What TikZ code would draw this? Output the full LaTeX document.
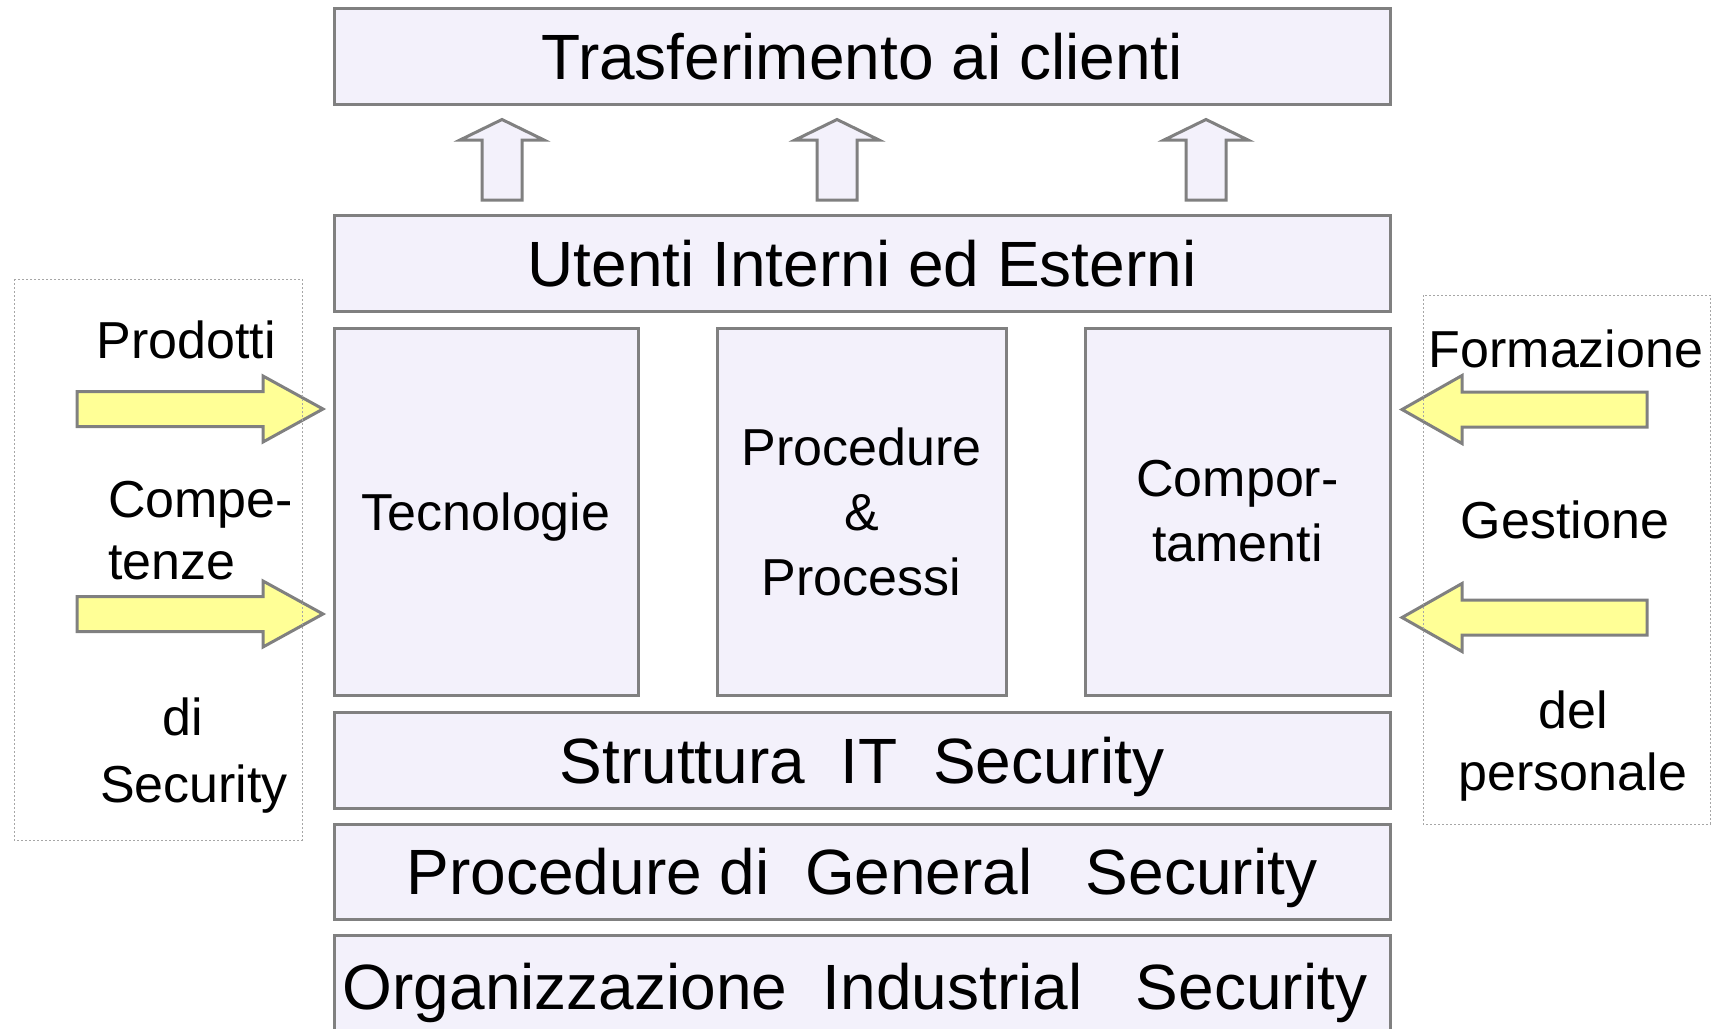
\documentclass[tikz,border=0pt]{standalone}
\usepackage{fontspec}
\setmainfont{Liberation Sans}
\usetikzlibrary{positioning}
\definecolor{lavender}{RGB}{243,241,251}
\definecolor{paleyellow}{RGB}{255,255,150}
\definecolor{edgegray}{RGB}{128,128,128}
\tikzset{
  layer/.style={draw=edgegray, line width=3pt, fill=lavender, minimum width=1056pt, minimum height=96pt, inner sep=0pt, font=\fontsize{64}{64}\selectfont, text height=46pt, text depth=0pt},
  pillar/.style={draw=edgegray, line width=3pt, fill=lavender, minimum height=367pt, inner sep=0pt, align=center, font=\fontsize{52}{65}\selectfont},
  sidetext/.style={inner sep=0pt, font=\fontsize{52}{62}\selectfont},
  fatarrow/.style={draw=edgegray, line width=3pt, fill=paleyellow},
  uparrow/.style={draw=edgegray, line width=3pt, fill=lavender},
  dotbox/.style={draw=gray!70, line width=1pt, dash pattern=on 2pt off 2pt}
}
\begin{document}
\begin{tikzpicture}[x=1pt,y=-1pt]
    \useasboundingbox (0,0) rectangle (1712,1028);
    \clip (0,0) rectangle (1712,1028);
    % layers
    \node[layer] (clienti) at (862,56.5) {Trasferimento ai clienti};
    \node[layer] (utenti) at (862,263) {Utenti Interni ed Esterni};
    \node[pillar, minimum width=304pt, text height=37pt, text depth=0pt] (tecno) at (486,511.5) {Tecnologie};
    \node[pillar, minimum width=289pt] (proc) at (861.5,511.5) {Procedure\\\&\\Processi};
    \node[pillar, minimum width=305pt] (comp) at (1237.5,511.5) {Compor-\\tamenti};
    \node[layer] (struttura) at (862,760) {Struttura\ \ IT\ \ Security};
    \node[layer, minimum height=95pt] (general) at (862,871.5) {Procedure di\ \ General\ \ \ Security};
    \node[layer, minimum height=102pt] (industrial) at (862,986) {Organizzazione\ \ Industrial\ \ \ Security\kern14pt};
    % arrows up
    \foreach \cx in {502,837,1206}
      \draw[uparrow] (\cx-20,200) -- (\cx-20,140) -- (\cx-42,140) -- (\cx,119.5)
        -- (\cx+42,140) -- (\cx+20,140) -- (\cx+20,200) -- cycle;
    % arrows in from the left
    \foreach \cy in {409,614}
      \draw[fatarrow] (77,\cy-17.5) -- (263,\cy-17.5) -- (263,\cy-33) -- (323,\cy)
        -- (263,\cy+33) -- (263,\cy+17.5) -- (77,\cy+17.5) -- cycle;
    % arrows in from the right
    \foreach \cy in {409.5,617.5}
      \draw[fatarrow] (1647,\cy-17.5) -- (1462,\cy-17.5) -- (1462,\cy-34) -- (1402,\cy)
        -- (1462,\cy+34) -- (1462,\cy+17.5) -- (1647,\cy+17.5) -- cycle;
    % side groups
    \draw[dotbox] (14,279) rectangle (302,840);
    \draw[dotbox] (1423,295) rectangle (1710,824);
    \node[sidetext] (prodotti) at (186,340) {Prodotti};
    \node[sidetext, align=left, anchor=west] (compe) at (108,531) {Compe-\\tenze};
    \node[sidetext, align=center, font=\fontsize{52}{67}\selectfont] (disec) at (194,756) {di\kern22pt\\Security};
    \node[sidetext] (formazione) at (1566,349) {Formazione};
    \node[sidetext] (gestione) at (1565,520) {Gestione};
    \node[sidetext, align=center] (personale) at (1573,746.5) {del\\personale};
\end{tikzpicture}
\end{document}
